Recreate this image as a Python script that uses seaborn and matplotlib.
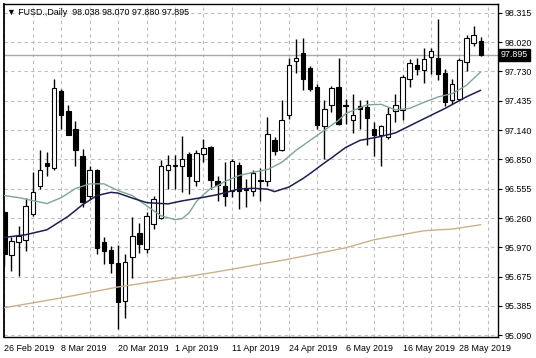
import matplotlib
matplotlib.use("Agg")
import matplotlib.pyplot as plt
import matplotlib.transforms as mtransforms
import seaborn as sns
import pandas as pd
import numpy as np

symbol = "FUSD.,Daily"

# daily candles, 26 Feb 2019 .. 31 May 2019
opens = [96.318, 95.890, 96.017, 96.044, 96.298, 96.586, 96.815, 96.760, 97.531, 97.330,
         97.156, 96.881, 96.486, 96.747, 96.024, 95.943, 95.810, 95.431, 95.876, 96.111,
         95.950, 96.202, 96.258, 96.747, 96.792, 96.780, 96.905, 96.637, 96.905, 96.971,
         96.637, 96.586, 96.536, 96.795, 96.550, 96.536, 96.640, 96.637, 97.039, 96.938,
         97.297, 97.833, 97.910, 97.765, 97.574, 97.182, 97.390, 97.574, 97.395, 97.247,
         97.380, 97.373, 97.156, 97.089, 97.072, 97.333, 97.347, 97.649, 97.792, 97.742,
         97.876, 97.866, 97.715, 97.448, 97.458, 97.826, 98.017, 98.038]
highs = [96.330, 96.067, 96.184, 96.459, 96.720, 96.938, 96.921, 97.652, 97.558, 97.390,
         97.230, 96.955, 96.780, 96.757, 96.067, 95.983, 95.996, 95.900, 96.268, 96.215,
         96.318, 96.486, 96.838, 96.888, 96.888, 97.082, 96.921, 96.938, 97.056, 96.978,
         96.687, 96.821, 96.848, 96.821, 96.654, 96.747, 96.760, 97.273, 97.072, 97.441,
         97.860, 98.054, 98.067, 97.782, 97.608, 97.441, 97.584, 97.860, 97.458, 97.501,
         97.441, 97.441, 97.223, 97.189, 97.373, 97.501, 97.692, 97.850, 97.860, 97.960,
         97.960, 98.252, 97.759, 97.649, 97.860, 98.094, 98.184, 98.070]
lows = [95.782, 95.732, 95.682, 95.933, 96.285, 96.553, 96.687, 96.747, 97.156, 97.089,
        96.787, 96.368, 96.453, 95.900, 95.799, 95.709, 95.146, 95.263, 95.665, 95.910,
        95.910, 96.151, 96.252, 96.553, 96.553, 96.519, 96.503, 96.586, 96.821, 96.553,
        96.436, 96.378, 96.469, 96.352, 96.368, 96.486, 96.436, 96.586, 96.895, 96.928,
        97.250, 97.709, 97.541, 97.531, 97.156, 96.848, 97.323, 97.189, 97.207, 97.112,
        97.156, 96.988, 96.878, 96.787, 97.056, 97.223, 97.247, 97.574, 97.692, 97.615,
        97.702, 97.642, 97.380, 97.408, 97.448, 97.735, 97.983, 97.880]
closes = [95.900, 96.034, 96.084, 96.378, 96.526, 96.747, 96.780, 97.564, 97.297, 97.096,
          96.938, 96.419, 96.747, 95.966, 95.933, 95.816, 95.421, 95.826, 96.084, 95.997,
          96.285, 96.453, 96.780, 96.795, 96.782, 96.848, 96.680, 96.915, 96.961, 96.647,
          96.594, 96.486, 96.831, 96.536, 96.542, 96.714, 96.634, 97.106, 96.928, 97.240,
          97.792, 97.866, 97.652, 97.558, 97.196, 97.357, 97.564, 97.200, 97.388, 97.290,
          97.353, 97.267, 97.089, 97.179, 97.300, 97.390, 97.669, 97.816, 97.755, 97.850,
          97.936, 97.702, 97.424, 97.608, 97.843, 98.061, 98.094, 97.895]

date_ticks = [0, 8, 16, 24, 32, 40, 48, 56, 64]
date_labels = ["26 Feb 2019", "8 Mar 2019", "20 Mar 2019", "1 Apr 2019", "11 Apr 2019",
               "24 Apr 2019", "6 May 2019", "16 May 2019", "28 May 2019"]
price_ticks = [98.315, 98.020, 97.730, 97.435, 97.140, 96.850, 96.555, 96.260,
               95.970, 95.675, 95.385, 95.090]

# moving averages (bar index, price)
fast_x = [0, 2, 4, 6, 8, 10, 12, 14, 16, 18, 20, 22, 24, 25, 26, 27, 28, 29, 30, 31,
          33, 35, 37, 39, 41, 43, 45, 47, 48, 51, 53, 55, 57, 59, 61, 63, 65, 66, 67]
fast_y = [96.486, 96.466, 96.436, 96.406, 96.466, 96.556, 96.604, 96.604, 96.536, 96.486,
          96.385, 96.285, 96.245, 96.255, 96.315, 96.426, 96.496, 96.556, 96.586, 96.627,
          96.687, 96.720, 96.747, 96.818, 96.938, 97.039, 97.140, 97.240, 97.307, 97.395,
          97.400, 97.345, 97.360, 97.420, 97.474, 97.508, 97.591, 97.659, 97.725]
mid_x = [0, 3, 6, 9, 11, 13, 15, 16, 18, 20, 23, 25, 28, 30, 33, 35, 37, 38, 40, 42,
         43, 45, 46, 48, 50, 53, 55, 58, 60, 62, 65, 67]
mid_y = [96.067, 96.094, 96.144, 96.280, 96.395, 96.486, 96.519, 96.511, 96.461, 96.416,
         96.403, 96.433, 96.469, 96.496, 96.553, 96.559, 96.551, 96.526, 96.571, 96.657,
         96.707, 96.813, 96.863, 96.968, 97.039, 97.079, 97.114, 97.220, 97.290, 97.360,
         97.476, 97.541]
slow_x = [0, 8, 16, 24, 29, 32, 40, 48, 52, 59, 63, 67]
slow_y = [95.363, 95.461, 95.571, 95.657, 95.712, 95.749, 95.850, 95.963, 96.044,
          96.134, 96.151, 96.194]

df = pd.DataFrame({"open": opens, "high": highs, "low": lows, "close": closes})
df["bar"] = np.arange(len(df))
up = df["close"] >= df["open"]

sns.set_style("white")
plt.rcParams["font.family"] = ["Liberation Sans", "DejaVu Sans"]

fig = plt.figure(figsize=(5.36, 3.58), dpi=100)
ax = fig.add_axes([4 / 536, 21 / 358, 494 / 536, 333 / 358])

grid_kw = dict(color="#bdbdbd", linestyle=(0, (3, 3)), linewidth=0.8)
ax.set_xticks(date_ticks)
ax.set_xticks(range(0, 70, 4), minor=True)
ax.grid(True, which="both", axis="x", **grid_kw)
ax.set_yticks(price_ticks)
ax.grid(True, which="major", axis="y", **grid_kw)
ax.set_axisbelow(True)

ax.axhline(closes[-1], color="#a9a9a9", lw=1, zorder=2)

ax.vlines(df["bar"], df["low"], df["high"], color="black", lw=1, zorder=3)
ax.bar(df["bar"], (df["close"] - df["open"]).abs(),
       bottom=df[["open", "close"]].min(axis=1), width=0.62,
       color=np.where(up, "white", "black"), edgecolor="black", linewidth=0.8, zorder=4)

sns.lineplot(x=fast_x, y=fast_y, ax=ax, color="#7ea595", lw=1, zorder=5)
sns.lineplot(x=mid_x, y=mid_y, ax=ax, color="#1c1f4f", lw=1.1, zorder=5)
sns.lineplot(x=slow_x, y=slow_y, ax=ax, color="#c9b18c", lw=1, zorder=5)

ax.set_xlim(-0.05, 69.43)
ax.set_ylim(95.07, 98.405)

ax.yaxis.tick_right()
ax.set_yticklabels([f"{p:.3f}" for p in price_ticks])
ax.set_xticklabels(date_labels, ha="left")
ax.tick_params(axis="both", which="major", direction="out", length=3, width=0.8,
               labelsize=6.4, pad=2, colors="black")
ax.tick_params(axis="x", which="minor", length=0)
ax.tick_params(axis="y", right=True, left=False)
for s in ax.spines.values():
    s.set_color("black")
    s.set_linewidth(1)
ax.spines["left"].set_linewidth(1.3)

trans = mtransforms.blended_transform_factory(ax.transAxes, ax.transData)
ax.text(1.006, closes[-1], f"{closes[-1]:.3f}", transform=trans, color="white",
        fontsize=6.4, va="center", ha="left",
        bbox=dict(facecolor="black", edgecolor="black", pad=1.3))

header = f"\u25bc {symbol}  {opens[-1]:.3f} {highs[-1]:.3f} {lows[-1]:.3f} {closes[-1]:.3f}"
ax.text(0.006, 0.988, header, transform=ax.transAxes, fontsize=6.4, va="top", ha="left",
        color="black")

ax.set_xlabel("")
ax.set_ylabel("")
fig.savefig("out.png", dpi=100)
